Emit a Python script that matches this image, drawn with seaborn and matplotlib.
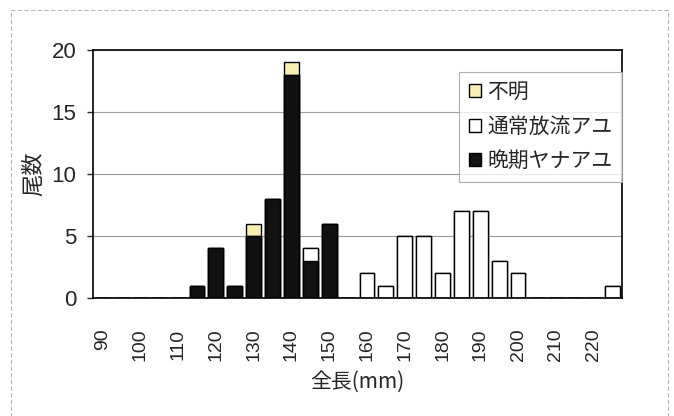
"""
Length frequency of ayu (stacked bars by origin).
"""
import matplotlib
matplotlib.use("Agg")
import matplotlib.pyplot as plt
import matplotlib.patches as mpatches
from matplotlib import font_manager
import pandas as pd
import seaborn as sns

# length classes (mm), 5 mm steps
lengths = [90, 95, 100, 105, 110, 115, 120, 125, 130, 135, 140, 145, 150, 155,
           160, 165, 170, 175, 180, 185, 190, 195, 200, 205, 210, 215, 220, 225]
# 晩期ヤナアユ
late_yana = [0, 0, 0, 0, 0, 1, 4, 1, 5, 8, 18, 3, 6, 0,
             0, 0, 0, 0, 0, 0, 0, 0, 0, 0, 0, 0, 0, 0]
# 通常放流アユ
normal_release = [0, 0, 0, 0, 0, 0, 0, 0, 0, 0, 0, 1, 0, 0,
                  2, 1, 5, 5, 2, 7, 7, 3, 2, 0, 0, 0, 0, 1]
# 不明
unknown = [0, 0, 0, 0, 0, 0, 0, 0, 1, 0, 1, 0, 0, 0,
           0, 0, 0, 0, 0, 0, 0, 0, 0, 0, 0, 0, 0, 0]

series_names = ["不明", "通常放流アユ", "晩期ヤナアユ"]
series_colors = ["#F8EFB0", "white", "#111111"]

sns.set_style("white")
plt.rcParams["font.family"] = ["Noto Sans CJK JP", "DejaVu Sans"]

# narrow face for the digits if it is there
names = {f.name for f in font_manager.fontManager.ttflist}
num_font = "Liberation Sans Narrow" if "Liberation Sans Narrow" in names else "Liberation Sans"

df = pd.DataFrame({
    "length": [str(v) for v in lengths],
    "late": late_yana,
    "normal": normal_release,
    "unknown": unknown,
})
df["cum_normal"] = df["late"] + df["normal"]
df["cum_all"] = df["cum_normal"] + df["unknown"]
order = df["length"].tolist()

fig = plt.figure(figsize=(6.74, 4.16), dpi=100)
ax = fig.add_axes([93 / 674, 1 - 298 / 416, (622 - 93) / 674, (298 - 50) / 416])

# stacked look: draw cumulative totals from top layer down
for col, color in zip(["cum_all", "cum_normal", "late"], series_colors):
    sns.barplot(data=df, x="length", y=col, order=order, color=color,
                edgecolor="black", linewidth=1.0, width=0.78, ax=ax,
                saturation=1, errorbar=None)

ax.set_xlim(-0.5, len(lengths) - 0.5)
ax.set_ylim(0, 20)
ax.set_yticks([0, 5, 10, 15, 20])
ax.yaxis.grid(True, color="#9a9a9a", linewidth=0.8)
ax.set_axisbelow(True)

xt = list(range(len(lengths)))
ax.set_xticks(xt)
ax.set_xticklabels([str(v) if v % 10 == 0 else "" for v in lengths],
                   rotation=90, fontsize=14, family=num_font)
ax.set_xticks([i + 0.5 for i in xt[:-1]], minor=True)
ax.tick_params(axis="x", which="major", length=0, pad=22)
ax.tick_params(axis="x", which="minor", length=5, direction="in", width=1)
ax.tick_params(axis="y", length=4, direction="out", width=1, left=True, pad=8)
for lab in ax.get_yticklabels():
    lab.set_fontfamily(num_font)
    lab.set_fontsize(16)

for s in ax.spines.values():
    s.set_color("black")
    s.set_linewidth(1.2)

ax.set_xlabel("全長(mm)", fontsize=15, labelpad=7)
ax.set_ylabel("尾数", fontsize=16, labelpad=5)

handles = [mpatches.Patch(facecolor=c, edgecolor="black", linewidth=1.0, label=n)
           for n, c in zip(series_names, series_colors)]
leg = ax.legend(handles=handles, loc="upper right", bbox_to_anchor=(1.0, 0.912),
                fontsize=15, frameon=True, fancybox=False, handlelength=0.6,
                handleheight=0.6, handletextpad=0.3, labelspacing=0.6,
                borderpad=0.45, borderaxespad=0.0, edgecolor="#9a9a9a")
leg.get_frame().set_linewidth(0.8)

# light outer frame of the chart area
fig.patches.append(mpatches.Rectangle((11 / 674, -0.05), (668 - 11) / 674, 1.05 - 10 / 416,
                                      transform=fig.transFigure, fill=False,
                                      edgecolor="#b8b8b8", linewidth=0.8,
                                      linestyle=(0, (4, 2))))

fig.savefig("out.png", dpi=100)
plt.close(fig)
